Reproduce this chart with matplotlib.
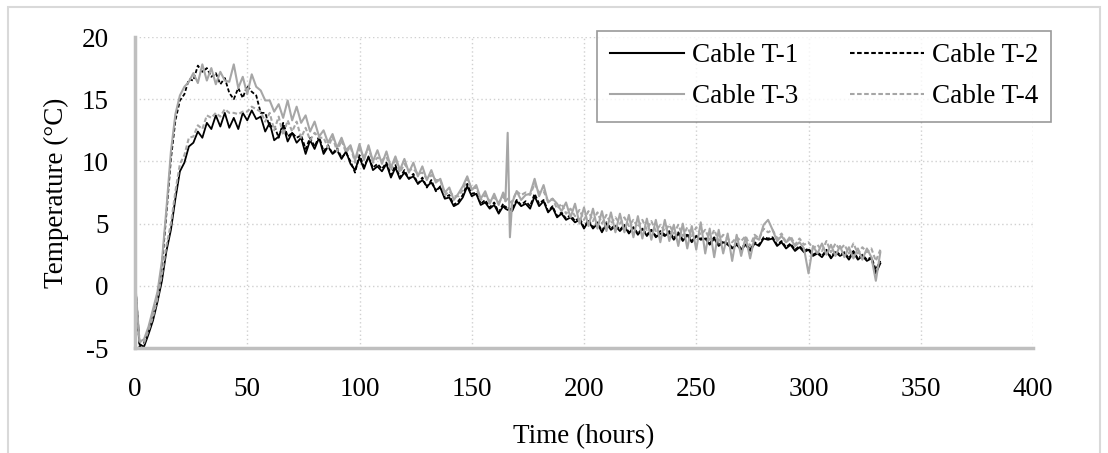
import matplotlib
matplotlib.use("Agg")
import matplotlib.pyplot as plt
from matplotlib.patches import Rectangle

plt.rcParams["font.family"] = ["Liberation Serif", "DejaVu Serif"]
plt.rcParams["axes.unicode_minus"] = False

# Sampling times (hours); 1 h steps around the transient at ~166 h
hours = (list(range(0, 166, 2)) + [165, 166, 167] + list(range(168, 334, 2)))

cable_t1 = [
    0.4, -4.7, -4.9, -3.9, -2.8, -1.3, 0.4, 2.8, 4.5, 7.0,
    9.2, 9.9, 11.2, 11.5, 12.4, 11.9, 13.1, 12.6, 13.7, 12.8,
    13.9, 12.7, 13.5, 12.6, 13.9, 13.3, 14.1, 13.4, 13.6, 12.4,
    13.1, 11.7, 12.0, 12.9, 11.6, 12.3, 11.5, 11.9, 10.6, 11.7,
    11.0, 11.9, 10.6, 11.2, 10.6, 10.9, 10.2, 10.8, 9.8, 9.3,
    10.3, 9.4, 10.4, 9.3, 9.6, 9.2, 9.8, 8.7, 9.5, 8.6,
    9.1, 8.6, 8.8, 8.2, 8.5, 8.0, 8.3, 7.7, 7.9, 7.0,
    7.1, 6.4, 6.6, 7.1, 8.0, 7.2, 7.4, 6.5, 6.7, 6.2,
    6.5, 5.8, 6.4, 6.2, 6.1, 6.2, 6.0, 6.8, 6.4, 6.6,
    6.2, 7.2, 6.4, 6.8, 5.9, 6.3, 5.5, 5.8, 5.3, 5.5,
    5.1, 5.3, 4.6, 5.2, 4.6, 5.0, 4.3, 5.0, 4.5, 4.8,
    4.4, 4.8, 4.2, 4.7, 4.1, 4.6, 4.0, 4.5, 3.9, 4.2,
    4.0, 4.3, 3.7, 4.2, 3.6, 4.1, 3.5, 4.0, 3.7, 3.8,
    3.3, 3.8, 3.2, 3.5, 3.3, 3.0, 3.3, 2.9, 3.3, 2.8,
    3.4, 3.2, 3.8, 3.7, 3.8, 3.2, 3.5, 3.0, 3.3, 2.8,
    3.1, 2.7, 2.9, 2.4, 2.6, 2.3, 2.8, 2.2, 2.7, 2.4,
    2.6, 2.1, 2.7, 2.1, 2.4, 2.0, 2.2, 1.0, 1.8,
]

cable_t2 = [
    0.6, -4.9, -4.6, -3.5, -2.1, -0.7, 1.6, 5.8, 10.2, 13.3,
    14.9, 15.4, 16.6, 16.5, 17.7, 17.2, 17.5, 16.8, 17.1, 16.2,
    16.7, 15.5, 15.0, 15.9, 15.1, 16.1, 15.6, 15.3, 13.9, 13.9,
    12.8, 12.9, 11.9, 13.1, 12.0, 12.3, 11.9, 12.1, 11.0, 11.9,
    11.2, 12.0, 10.8, 11.3, 10.6, 11.1, 10.3, 10.7, 10.0, 9.1,
    10.5, 9.6, 10.3, 9.5, 9.8, 9.4, 9.9, 8.9, 9.7, 8.7,
    9.3, 8.6, 9.0, 8.2, 8.7, 7.9, 8.5, 7.6, 8.0, 7.1,
    7.3, 6.5, 6.8, 7.3, 8.2, 7.4, 7.5, 6.6, 6.9, 6.3,
    6.7, 5.9, 6.6, 6.3, 6.4, 6.1, 6.2, 6.9, 6.5, 6.8,
    6.4, 7.4, 6.6, 6.9, 6.0, 6.4, 5.6, 5.9, 5.4, 5.7,
    5.2, 5.5, 4.7, 5.3, 4.7, 5.1, 4.4, 5.1, 4.6, 4.9,
    4.5, 4.9, 4.3, 4.7, 4.2, 4.6, 4.1, 4.5, 4.0, 4.4,
    4.1, 4.4, 3.8, 4.3, 3.7, 4.2, 3.6, 4.0, 3.8, 3.9,
    3.4, 3.9, 3.3, 3.6, 3.4, 3.1, 3.4, 3.0, 3.4, 2.9,
    3.5, 3.3, 3.9, 3.8, 3.9, 3.3, 3.6, 3.1, 3.4, 2.9,
    3.2, 2.8, 3.0, 2.5, 2.7, 2.4, 2.9, 2.3, 2.8, 2.5,
    2.7, 2.2, 2.8, 2.2, 2.5, 2.1, 2.3, 1.3, 2.0,
]

cable_t3 = [
    0.5, -4.5, -4.3, -3.3, -1.9, -0.5, 2.0, 6.2, 10.8, 13.8,
    15.3, 16.0, 16.4, 17.1, 16.3, 17.8, 16.5, 17.5, 16.2, 17.2,
    16.5, 16.4, 17.8, 15.9, 16.8, 15.4, 17.0, 16.0, 15.7, 14.9,
    14.9, 14.0, 14.6, 13.5, 14.9, 13.3, 14.4, 13.1, 13.7, 12.4,
    13.2, 12.0, 12.5, 11.5, 12.2, 11.1, 11.9, 10.9, 11.3, 10.1,
    11.4, 10.1, 11.3, 10.0, 10.9, 9.8, 10.8, 9.5, 10.4, 9.3,
    10.2, 9.1, 9.9, 8.8, 9.6, 8.5, 9.3, 8.3, 8.6, 7.5,
    7.9, 6.9, 7.4, 8.0, 8.8, 7.7, 8.1, 7.0, 7.6, 6.6,
    7.4, 6.5, 7.5, 6.8, 12.3, 3.9, 6.7, 7.6, 6.9, 7.3,
    7.4, 8.6, 7.2, 8.1, 6.7, 7.0, 6.6, 6.0, 6.7, 5.5,
    6.6, 5.0, 6.3, 4.8, 6.2, 4.6, 6.0, 4.4, 5.9, 4.3,
    5.8, 4.3, 5.7, 3.9, 5.6, 3.8, 5.4, 3.7, 5.3, 3.5,
    5.3, 3.6, 4.9, 3.2, 5.0, 3.0, 4.8, 2.9, 5.1, 2.6,
    4.6, 2.3, 4.5, 2.6, 4.2, 2.0, 4.1, 2.4, 3.9, 2.2,
    3.9, 3.7, 4.9, 5.3, 4.5, 3.6, 4.0, 3.5, 3.8, 3.2,
    3.5, 3.0, 1.0, 3.2, 2.6, 3.4, 2.5, 3.3, 2.4, 3.2,
    2.3, 3.1, 2.2, 3.0, 2.1, 3.0, 2.3, 0.4, 2.7,
]

cable_t4 = [
    0.3, -4.4, -4.6, -3.6, -2.5, -1.0, 0.9, 3.2, 5.0, 7.6,
    9.8, 10.5, 11.9, 12.0, 12.9, 12.6, 13.7, 13.5, 13.9, 13.6,
    14.2, 13.9, 13.9, 13.8, 14.0, 14.0, 14.4, 14.2, 14.0, 13.2,
    13.9, 12.5, 13.6, 12.1, 13.3, 12.4, 13.2, 11.9, 12.7, 11.7,
    12.3, 11.9, 11.9, 11.1, 12.0, 10.8, 11.7, 10.7, 11.2, 9.9,
    11.0, 10.3, 11.1, 9.9, 10.3, 10.1, 10.4, 9.3, 10.2, 9.1,
    9.8, 9.3, 9.4, 9.0, 9.1, 8.6, 8.9, 8.5, 8.5, 7.3,
    7.6, 7.2, 7.2, 7.7, 8.6, 7.8, 7.9, 6.9, 7.3, 6.8,
    7.1, 6.7, 7.2, 6.8, 7.0, 6.7, 6.8, 7.6, 7.3, 7.5,
    7.3, 8.2, 7.5, 7.6, 6.8, 7.0, 6.2, 6.6, 5.8, 6.2,
    5.6, 6.1, 5.3, 6.0, 5.2, 5.9, 5.0, 5.7, 5.0, 5.5,
    5.0, 5.5, 4.8, 5.3, 4.7, 5.3, 4.5, 5.2, 4.4, 4.9,
    4.4, 4.9, 4.2, 4.9, 4.0, 4.7, 4.0, 4.7, 4.1, 4.5,
    3.7, 4.5, 3.6, 4.1, 3.8, 3.5, 3.9, 3.6, 4.0, 3.2,
    4.1, 3.8, 4.6, 4.3, 4.5, 3.8, 4.2, 3.5, 4.0, 3.3,
    3.8, 3.3, 3.5, 3.0, 3.3, 2.8, 3.6, 2.7, 3.4, 2.9,
    3.3, 2.6, 3.4, 2.6, 3.1, 2.7, 3.0, 2.0, 2.9,
]

series = [
    ("Cable T-1", cable_t1, "black", "-", 1.3),
    ("Cable T-2", cable_t2, "black", (0, (2.2, 1.2)), 1.3),
    ("Cable T-3", cable_t3, "#a6a6a6", "-", 1.5),
    ("Cable T-4", cable_t4, "#a6a6a6", (0, (2.2, 1.2)), 1.5),
]

x_ticks = [0, 50, 100, 150, 200, 250, 300, 350, 400]
y_ticks = [-5, 0, 5, 10, 15, 20]

W, H = 1108, 453
FS = 19.5
fig = plt.figure(figsize=(W / 100, H / 100), dpi=100)
ax = fig.add_axes([135 / W, 1 - 348 / H, (1033 - 135) / W, (348 - 37) / H])

lines = {}
for label, vals, color, ls, lw in series:
    lines[label], = ax.plot(hours, vals, color=color, linestyle=ls,
                            linewidth=lw, label=label)

ax.set_xlim(0, 400)
ax.set_ylim(-5, 20)
ax.set_xticks(x_ticks)
ax.set_yticks(y_ticks)
ax.tick_params(length=0, labelsize=FS)
ax.tick_params(axis="x", pad=21)
ax.tick_params(axis="y", pad=19)
ax.grid(True, linestyle=(0, (1, 2)), color="#d0d0d0", linewidth=1)
ax.set_axisbelow(True)

for side in ("top", "right"):
    ax.spines[side].set_visible(False)
for side in ("left", "bottom"):
    ax.spines[side].set_color("#bfbfbf")
    ax.spines[side].set_linewidth(2.5)

ax.set_xlabel("Time (hours)", fontsize=FS, labelpad=16)
ax.set_ylabel("Temperature (°C)", fontsize=FS, labelpad=9)

# two columns, filled row by row: T-1 | T-2 over T-3 | T-4
order = ["Cable T-1", "Cable T-3", "Cable T-2", "Cable T-4"]
leg = ax.legend(
    [lines[k] for k in order], order,
    ncol=2, loc="upper right",
    bbox_to_anchor=(1051 / W, 1 - 31 / H), bbox_transform=fig.transFigure,
    fontsize=FS, frameon=True, fancybox=False, handlelength=2.75,
    handletextpad=0.3, columnspacing=1.9, borderpad=0.45, labelspacing=0.6,
    borderaxespad=0,
)
leg.get_frame().set_edgecolor("#808080")
leg.get_frame().set_linewidth(1.2)
for h in leg.get_lines():
    h.set_linewidth(1.5)

# light frame around the whole chart
fig.patches.append(Rectangle((8 / W, -0.1), (1100 - 8) / W, 1.1 - 7 / H,
                             transform=fig.transFigure, fill=False,
                             edgecolor="#d9d9d9", linewidth=1.5))

fig.savefig("out.png", dpi=100)
